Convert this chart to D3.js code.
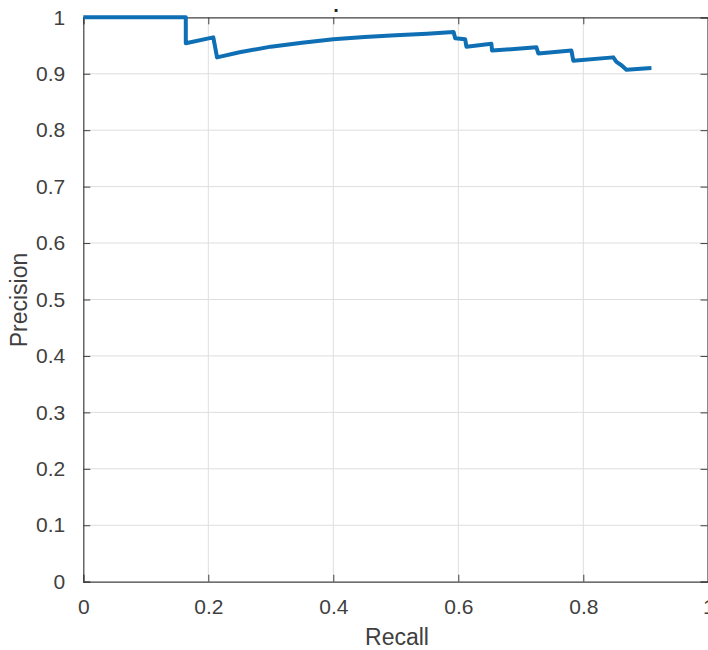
<!DOCTYPE html>
<html lang="en">
<head>
	<meta charset="UTF-8">
	<title>Precision Recall</title>
	<script src="https://d3js.org/d3.v7.min.js"></script>
	<style>
		body { margin: 0; background: #fff; }
		text { font-family: "Liberation Sans", Arial, sans-serif; }
	</style>
</head>
<body>
	<div id="main"></div>
</body>
<script>
	// values
	var recall = [0, 0.164, 0.164, 0.208, 0.214, 0.25, 0.30, 0.35, 0.40, 0.45, 0.50, 0.55, 0.5925,
		0.595, 0.611, 0.613, 0.653, 0.654, 0.725, 0.728, 0.781, 0.784, 0.848, 0.853, 0.861, 0.869, 0.909];
	var precision = [1.0, 1.0, 0.954, 0.9645, 0.929, 0.938, 0.948, 0.955, 0.961, 0.965, 0.968, 0.971, 0.974,
		0.963, 0.961, 0.948, 0.953, 0.941, 0.947, 0.936, 0.941, 0.923, 0.929, 0.921, 0.915, 0.907, 0.910];
	var xTicks = [0, 0.2, 0.4, 0.6, 0.8, 1];
	var yTicks = [0, 0.1, 0.2, 0.3, 0.4, 0.5, 0.6, 0.7, 0.8, 0.9, 1];

	function drawPR(target){
		var width = 708, height = 650;
		var left = 83.3, right = 708.3, top = 17.3, bottom = 581.7;
		var tickLen = 7;

		var svg = d3.select(target)
			.append("svg")
			.attr("width", width)
			.attr("height", height);

		var x = d3.scaleLinear().domain([0, 1]).range([left, right]);
		var y = d3.scaleLinear().domain([0, 1]).range([bottom, top]);

		//grid
		svg.append("g").selectAll("line")
			.data(xTicks.slice(1, -1))
			.enter().append("line")
			.attr("x1", function(d){ return x(d); })
			.attr("x2", function(d){ return x(d); })
			.attr("y1", top).attr("y2", bottom)
			.attr("stroke", "#dedede").attr("stroke-width", 1);
		svg.append("g").selectAll("line")
			.data(yTicks.slice(1, -1))
			.enter().append("line")
			.attr("y1", function(d){ return y(d); })
			.attr("y2", function(d){ return y(d); })
			.attr("x1", left).attr("x2", right)
			.attr("stroke", "#dedede").attr("stroke-width", 1);

		//axes (ticks inside, box on)
		svg.append("g").attr("transform", "translate(0," + bottom + ")")
			.call(d3.axisBottom(x).tickValues(xTicks).tickSize(-tickLen).tickPadding(tickLen + 10).tickFormat(d3.format("")));
		svg.append("g").attr("transform", "translate(" + left + ",0)")
			.call(d3.axisLeft(y).tickValues(yTicks).tickSize(-tickLen).tickPadding(tickLen + 11).tickFormat(d3.format("")));
		svg.append("g").attr("transform", "translate(0," + top + ")")
			.call(d3.axisTop(x).tickValues(xTicks).tickSize(-tickLen).tickFormat(""));
		svg.append("g").attr("transform", "translate(" + (right - 0.8) + ",0)")
			.call(d3.axisRight(y).tickValues(yTicks).tickSize(-tickLen).tickFormat(""));

		svg.selectAll(".domain").attr("stroke", "#404040").attr("stroke-width", 1.2);
		svg.selectAll(".tick line").attr("stroke", "#404040");
		svg.selectAll(".tick text")
			.attr("fill", "#404040")
			.style("font-size", "21px")
			.style("font-family", "'Liberation Sans', Arial, sans-serif");

		//curve
		var pts = recall.map(function(r, i){ return [r, precision[i]]; });
		svg.append("path")
			.datum(pts)
			.attr("fill", "none")
			.attr("stroke", "#0f6fb4")
			.attr("stroke-width", 4)
			.attr("stroke-linejoin", "round")
			.attr("d", d3.line()
				.x(function(d){ return x(d[0]); })
				.y(function(d){ return y(d[1]); }));

		//labels
		svg.append("text")
			.attr("x", 397).attr("y", 645)
			.attr("text-anchor", "middle")
			.attr("fill", "#404040")
			.style("font-size", "23px")
			.text("Recall");
		svg.append("text")
			.attr("transform", "translate(27,300) rotate(-90)")
			.attr("text-anchor", "middle")
			.attr("fill", "#404040")
			.style("font-size", "23px")
			.text("Precision");
		svg.append("text")
			.attr("x", 336).attr("y", 12)
			.attr("text-anchor", "middle")
			.attr("fill", "#222")
			.style("font-size", "20px")
			.style("font-weight", "bold")
			.text(".");
	}

	drawPR("#main");
</script>
</html>
